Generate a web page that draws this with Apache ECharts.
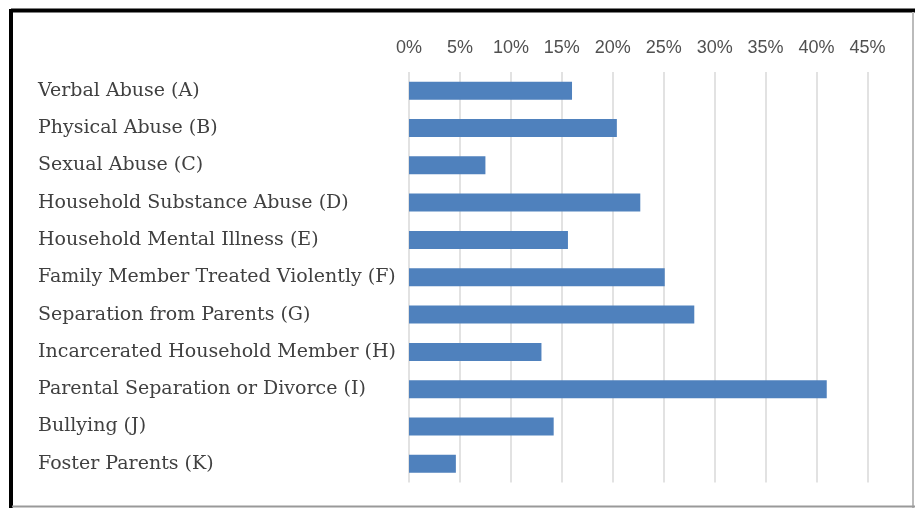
<!DOCTYPE html>
<html>
<head>
<meta charset="utf-8">
<script src="https://cdn.jsdelivr.net/npm/echarts@6/dist/echarts.min.js"></script>
<style>
html,body{margin:0;padding:0;background:#fff;}
#chart{width:915px;height:508px;}
</style>
</head>
<body>
<div id="chart"></div>
<script>
const categories = [
  "Verbal Abuse (A)",
  "Physical Abuse (B)",
  "Sexual Abuse (C)",
  "Household Substance Abuse (D)",
  "Household Mental Illness (E)",
  "Family Member Treated Violently (F)",
  "Separation from Parents (G)",
  "Incarcerated Household Member (H)",
  "Parental Separation or Divorce (I)",
  "Bullying (J)",
  "Foster Parents (K)"
];
const values = [16.0, 20.4, 7.5, 22.7, 15.6, 25.1, 28.0, 13.0, 41.0, 14.2, 4.6];

const chart = echarts.init(document.getElementById('chart'), null, {renderer: 'canvas'});
chart.setOption({
  animation: false,
  backgroundColor: '#ffffff',
  grid: {left: 409, right: 915 - 867.5, top: 72, bottom: 508 - 482.5, containLabel: false},
  xAxis: {
    type: 'value',
    position: 'top',
    min: 0, max: 45, interval: 5,
    axisLine: {show: false},
    axisTick: {show: false},
    splitLine: {show: true, lineStyle: {color: '#d9d9d9', width: 1.5}},
    axisLabel: {
      formatter: '{value}%',
      color: '#505050',
      fontFamily: '"Liberation Sans", Arial, sans-serif',
      fontSize: 18,
      margin: 15
    }
  },
  yAxis: {
    type: 'category',
    inverse: true,
    data: categories,
    axisLine: {show: false},
    axisTick: {show: false},
    axisLabel: {
      align: 'left',
      margin: 371,
      color: '#404040',
      fontFamily: '"DejaVu Serif", serif',
      fontSize: 19,
      padding: [7, 0, 0, 0]
    }
  },
  series: [{
    type: 'bar',
    data: values,
    barWidth: 18,
    itemStyle: {color: '#4f81bd'}
  }],
  graphic: [
    {type: 'line', shape: {x1: 11, y1: 10.5, x2: 915, y2: 10.5}, style: {stroke: '#000', lineWidth: 4}},
    {type: 'line', shape: {x1: 11, y1: 9, x2: 11, y2: 508}, style: {stroke: '#000', lineWidth: 4}},
    {type: 'line', shape: {x1: 913, y1: 12, x2: 913, y2: 508}, style: {stroke: '#bbb', lineWidth: 2}},
    {type: 'line', shape: {x1: 12, y1: 506.5, x2: 915, y2: 506.5}, style: {stroke: '#999', lineWidth: 2}}
  ]
});
</script>
</body>
</html>
